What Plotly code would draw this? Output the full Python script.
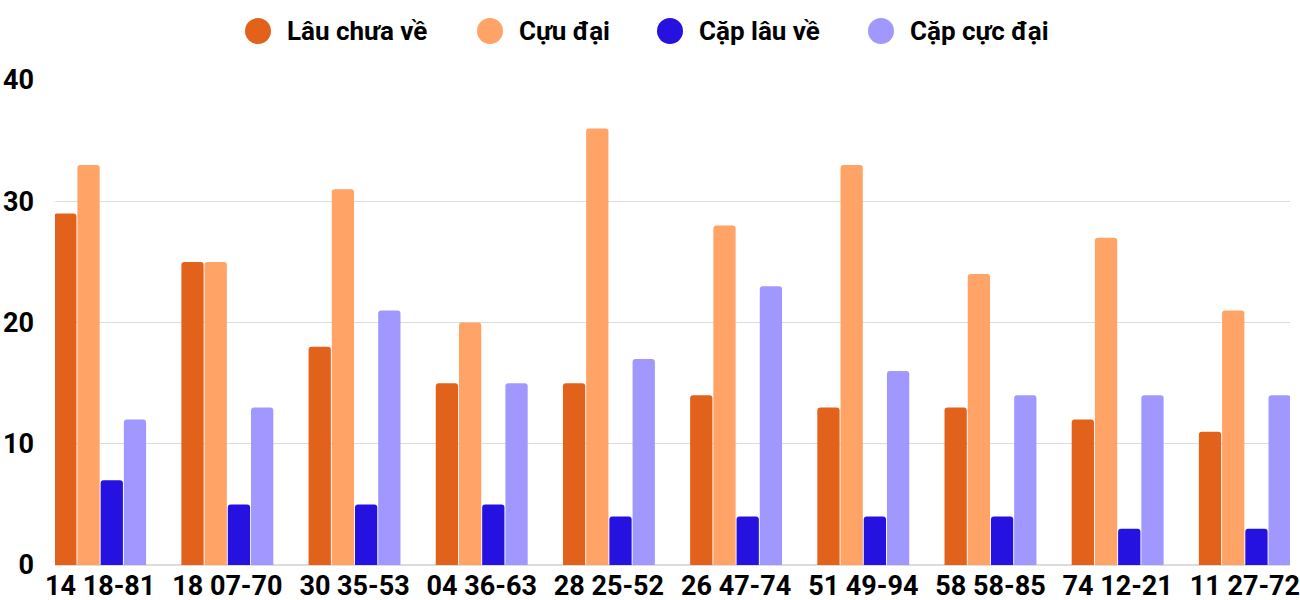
import plotly.graph_objects as go

categories = ["14 18-81", "18 07-70", "30 35-53", "04 36-63", "28 25-52",
              "26 47-74", "51 49-94", "58 58-85", "74 12-21", "11 27-72"]
series_names = ["Lâu chưa về", "Cựu đại", "Cặp lâu về", "Cặp cực đại"]
lau_chua_ve = [29, 25, 18, 15, 15, 14, 13, 13, 12, 11]
cuu_dai = [33, 25, 31, 20, 36, 28, 33, 24, 27, 21]
cap_lau_ve = [7, 5, 5, 5, 4, 4, 4, 4, 3, 3]
cap_cuc_dai = [12, 13, 21, 15, 17, 23, 16, 14, 14, 14]
colors = ["#E2621B", "#FFA366", "#2612E0", "#A098FF"]

# legend layout (pixel positions of the circle centres)
legend_px = [258, 490, 670, 881]
L, R, T, B = 55, 10, 80, 35
W, H = 1300, 600
pw, ph = W - L - R, H - T - B

fig = go.Figure()
for name, vals, col in zip(series_names, [lau_chua_ve, cuu_dai, cap_lau_ve, cap_cuc_dai], colors):
    fig.add_trace(go.Bar(x=categories, y=vals, name=name,
                         marker=dict(color=col, cornerradius=3, line=dict(width=0)),
                         showlegend=False))

ly = 1 + (T - 31) / ph
for name, col, px in zip(series_names, colors, legend_px):
    xp = (px - L) / pw
    fig.add_shape(type="circle", xref="paper", yref="paper", xsizemode="pixel", ysizemode="pixel",
                  xanchor=xp, yanchor=ly, x0=-13, x1=13, y0=-13, y1=13,
                  fillcolor=col, line=dict(width=0))
    fig.add_annotation(xref="paper", yref="paper", x=(px + 27 - L) / pw, y=ly, text=name,
                       showarrow=False, xanchor="left", yanchor="middle",
                       font=dict(family="Roboto", size=26, color="#000", weight="bold"))

fig.update_layout(
    width=W, height=H,
    margin=dict(l=L, r=R, t=T, b=B),
    paper_bgcolor="white", plot_bgcolor="white",
    barmode="group", bargap=0.27, bargroupgap=0.04,
    font=dict(family="Roboto", size=24, color="#000"),
    showlegend=False,
    xaxis=dict(range=[-0.355, 9.355], showgrid=False, ticks="", automargin=False, ticklabelstandoff=2,
               tickfont=dict(family="Roboto", size=27, color="#000", weight="bold")),
    yaxis=dict(range=[0, 40], dtick=10, showgrid=True, gridcolor="#DCDCDC", gridwidth=1, automargin=False,
               zeroline=True, zerolinecolor="#DCDCDC", zerolinewidth=2, ticks="", ticklabelstandoff=20,
               tickfont=dict(family="Roboto", size=27, color="#000", weight="bold")),
)
fig.write_html("out.html")
